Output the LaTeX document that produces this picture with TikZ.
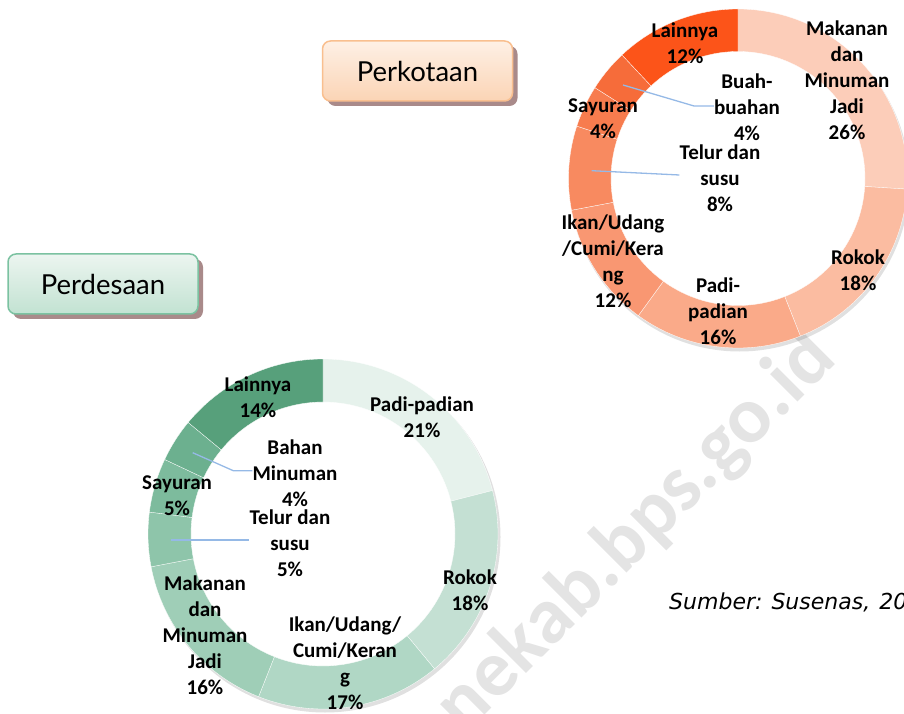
\documentclass[tikz,border=0pt]{standalone}
\usepackage{fontspec}
\setmainfont{Carlito}
\newfontfamily\titlefont{Lato}
\newfontfamily\srcfont{DejaVu Sans}
\usetikzlibrary{shadows,calc}
% orange (Perkotaan)
\definecolor{tA}{HTML}{FCCDB9}
\definecolor{tB}{HTML}{FBBCA1}
\definecolor{tC}{HTML}{FAAA89}
\definecolor{tD}{HTML}{F99772}
\definecolor{tE}{HTML}{F88A60}
\definecolor{tF}{HTML}{F77C4E}
\definecolor{tG}{HTML}{F66C3A}
\definecolor{tH}{HTML}{FC5419}
% green (Perdesaan)
\definecolor{bA}{HTML}{E6F2EC}
\definecolor{bB}{HTML}{C4E0D3}
\definecolor{bC}{HTML}{B0D7C5}
\definecolor{bD}{HTML}{9FCEB7}
\definecolor{bE}{HTML}{8EC5AA}
\definecolor{bF}{HTML}{7DBB9D}
\definecolor{bG}{HTML}{6CB08F}
\definecolor{bH}{HTML}{57A07B}
\definecolor{leadc}{HTML}{95B9E6}
\definecolor{shadc}{HTML}{A98A8A}
\definecolor{wmark}{HTML}{E4E4E4}
\definecolor{kbord}{HTML}{F9BF8F}
\definecolor{ktop}{HTML}{FEF0E5}
\definecolor{kbot}{HTML}{FBD4B5}
\definecolor{dbord}{HTML}{7BC2A1}
\definecolor{dtop}{HTML}{ECF5F0}
\definecolor{dbot}{HTML}{C2E2D2}
\begin{document}
\begin{tikzpicture}[x=1pt,y=1pt,
  lbl/.style={align=center,font=\bfseries\fontsize{21}{26}\selectfont,inner sep=0pt,text=black},
  leader/.style={draw=leadc,line width=1.3pt},
  titlebox/.style={rounded corners=8pt,minimum width=190pt,minimum height=60pt,line width=1.5pt,
    font=\titlefont\fontsize{27.5}{30}\selectfont,
    drop shadow={shadow xshift=5pt,shadow yshift=-5pt,fill=shadc,opacity=1}},
  ringshadow/.style={fill=black,opacity=0.12,even odd rule}]
\useasboundingbox (0,0) rectangle (904,713);
\clip (0,0) rectangle (904,713);

% watermark
\node[anchor=base west,rotate=45,inner sep=0pt,text=wmark,font=\bfseries\fontsize{80}{80}\selectfont] (wm) at (404,-83) {bonekab.bps.go.id};

% ---------- Perkotaan donut ----------
\coordinate (CT) at (738,534.5);
\fill[ringshadow] ($(CT)+(1.5,-3)$) circle[radius=170] ($(CT)+(1.5,-3)$) circle[radius=131];
\foreach \a/\b/\c in {90/-3.6/tA, -3.6/-68.4/tB, -68.4/-126/tC, -126/-169.2/tD,
  -169.2/-198/tE, -198/-212.4/tF, -212.4/-226.8/tG, -226.8/-270/tH}{
  \fill[\c,draw=white,line width=0.3pt] ($(CT)+(\a:169.5)$) arc[start angle=\a,end angle=\b,radius=169.5]
    -- ($(CT)+(\b:127)$) arc[start angle=\b,end angle=\a,radius=127] -- cycle;
}

% ---------- Perdesaan donut ----------
\coordinate (CB) at (323,179);
\fill[ringshadow] ($(CB)+(2,-3)$) circle[radius=175.5] ($(CB)+(2,-3)$) circle[radius=136];
\foreach \a/\b/\c in {90/14.4/bA, 14.4/-50.4/bB, -50.4/-111.6/bC, -111.6/-169.2/bD,
  -169.2/-187.2/bE, -187.2/-205.2/bF, -205.2/-219.6/bG, -219.6/-270/bH}{
  \fill[\c,draw=white,line width=0.3pt] ($(CB)+(\a:175)$) arc[start angle=\a,end angle=\b,radius=175]
    -- ($(CB)+(\b:132)$) arc[start angle=\b,end angle=\a,radius=132] -- cycle;
}

% ---------- labels Perkotaan ----------
\node[lbl] (makT) at (847,633) {Makanan\\dan\\Minuman\\Jadi\\26\%};
\node[lbl] (rokT) at (858,443) {Rokok\\18\%};
\node[lbl] (padT) at (718,402) {Padi-\\padian\\16\%};
\node[lbl] (ikaT) at (613,452) {Ikan/Udang\\/Cumi/Kera\\ng\\12\%};
\node[lbl] (telT) at (720,535) {Telur dan\\susu\\8\%};
\node[lbl] (sayT) at (603,594) {Sayuran\\4\%};
\node[lbl] (buaT) at (747,606) {Buah-\\buahan\\4\%};
\node[lbl] (laiT) at (685,670) {Lainnya\\12\%};

\coordinate (buaP) at (623,628);
\coordinate (buaK) at (694,607);
\coordinate (telP) at (591.7,542.3);
\draw[leader] (buaP) -- (buaK) -- (buaT.west |- buaK);
\draw[leader] (telP) -- (telT.west |- 0,538);

% ---------- labels Perdesaan ----------
\node[lbl] (laiB) at (258,316) {Lainnya\\14\%};
\node[lbl] (padB) at (422,296) {Padi-padian\\21\%};
\node[lbl] (bahB) at (295,240) {Bahan\\Minuman\\4\%};
\node[lbl] (sayB) at (177,217) {Sayuran\\5\%};
\node[lbl] (telB) at (290,170) {Telur dan\\susu\\5\%};
\node[lbl] (rokB) at (470,123) {Rokok\\18\%};
\node[lbl] (makB) at (205,78) {Makanan\\dan\\Minuman\\Jadi\\16\%};
\node[lbl] (ikaB) at (345,50) {Ikan/Udang/\\Cumi/Keran\\g\\17\%};

\coordinate (bahP) at (192.7,260.3);
\coordinate (bahK) at (233.3,242.3);
\coordinate (telBP) at (170.7,173);
\draw[leader] (bahP) -- (bahK) -- (bahB.west |- bahK);
\draw[leader] (telBP) -- (telB.west |- telBP);

% ---------- titles ----------
\node[titlebox,draw=kbord,top color=ktop,bottom color=kbot] (tk) at (417.5,642) {Perkotaan};
\node[titlebox,draw=dbord,top color=dtop,bottom color=dbot] (td) at (103,429) {Perdesaan};

% ---------- source ----------
\node[anchor=base west,inner sep=0pt,font=\srcfont\itshape\fontsize{22}{26}\selectfont] (src) at (669,104) {Sumber:\hspace{9pt}Susenas,\hspace{9pt}2018};
\end{tikzpicture}
\end{document}
